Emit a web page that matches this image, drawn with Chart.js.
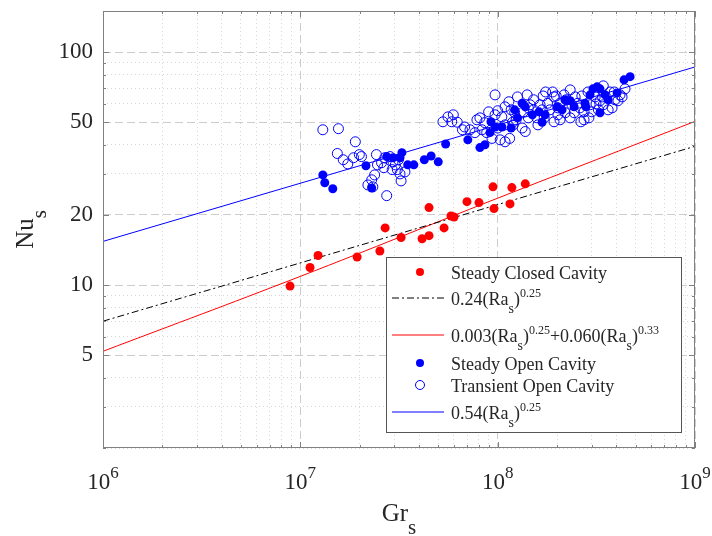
<!DOCTYPE html>
<html>
<head>
<meta charset="utf-8">
<script src="https://cdn.jsdelivr.net/npm/chart.js@4.4.1/dist/chart.umd.min.js"></script>
<style>
  html, body { margin: 0; padding: 0; background: #fff; }
</style>
</head>
<body>
<canvas id="nuChart" width="712" height="536"></canvas>
<script>
// axis ranges and labelled ticks
const xMin = 1e6, xMax = 1e9;
const xTickExponents = [6, 7, 8, 9];
const yMin = 2, yMax = 150;
const yTickLabels = [5, 10, 20, 50, 100];

// Steady Closed Cavity
const closedGr = [8.87e6, 1.12e7, 1.23e7, 1.94e7, 2.53e7, 2.69e7, 3.24e7, 4.14e7, 4.49e7, 4.49e7,
    5.35e7, 5.80e7, 6.01e7, 6.99e7, 8.04e7, 9.58e7, 9.47e7, 1.155e8, 1.18e8, 1.38e8];
const closedNu = [9.9, 11.9, 13.4, 13.2, 14.0, 17.6, 16.0, 15.8, 16.3, 21.5,
    17.6, 19.8, 19.6, 22.8, 22.6, 21.3, 26.4, 22.3, 26.2, 27.2];

// Steady Open Cavity
const steadyGr = [1.30e7, 1.33e7, 1.46e7, 2.15e7, 2.30e7, 2.74e7, 2.95e7, 3.20e7, 3.27e7, 3.50e7,
    3.76e7, 4.25e7, 4.60e7, 5.00e7, 5.45e7, 7.06e7, 8.13e7, 8.62e7, 9.14e7, 9.25e7,
    9.70e7, 1.05e8, 1.17e8, 1.26e8, 1.38e8, 1.50e8, 1.62e8, 1.68e8, 2.00e8, 2.12e8,
    2.44e8, 2.77e8, 3.04e8, 3.19e8, 3.30e8, 3.30e8, 3.63e8, 4.03e8, 4.37e8, 4.69e8,
    1.33e8, 1.22e8, 2.33e8, 2.80e8, 1.74e8, 2.20e8, 2.94e8, 3.50e8];
const steadyNu = [29.7, 27.5, 25.9, 32.5, 26.1, 35.6, 35.2, 35.2, 37.0, 32.8,
    32.8, 34.5, 35.8, 33.8, 40.3, 42.0, 38.9, 40.0, 45.1, 50.2,
    47.7, 47.7, 47.2, 52.2, 58.2, 53.8, 55.4, 50.0, 58.2, 56.5,
    58.2, 60.3, 69.5, 70.9, 69.5, 54.9, 62.4, 66.8, 76.0, 78.4,
    60.3, 56.5, 61.8, 58.2, 53.8, 62.4, 65.5, 65.5];

// Transient Open Cavity
const transientGr = [1.30e7, 1.56e7, 1.90e7, 1.54e7, 1.65e7, 1.74e7, 1.86e7, 1.99e7, 2.04e7, 2.43e7,
    2.46e7, 2.58e7, 2.38e7, 2.30e7, 2.20e7, 2.33e7, 2.74e7, 2.68e7, 2.85e7, 2.95e7,
    3.14e7, 3.10e7, 3.20e7, 3.39e7, 3.24e7, 3.03e7, 2.92e7, 2.65e7, 5.28e7, 5.60e7,
    5.96e7, 6.24e7, 5.85e7, 6.63e7, 6.80e7, 7.24e7, 7.67e7, 7.85e7, 8.33e7, 8.80e7,
    9.36e7, 1.03e8, 1.09e8, 1.15e8, 1.09e8, 1.17e8, 1.22e8, 1.24e8, 1.33e8, 1.05e8,
    9.70e7, 1.38e8, 1.26e8, 1.14e8, 1.00e8, 9.70e7, 8.60e7, 1.00e8, 1.19e8, 1.70e8,
    1.98e8, 2.33e8, 2.67e8, 3.43e8, 4.07e8, 2.64e8, 2.90e8, 1.93e8, 1.52e8, 1.46e8,
    1.64e8, 1.84e8, 2.07e8, 2.20e8, 2.47e8, 2.61e8, 2.94e8, 3.12e8, 3.30e8, 3.71e8,
    3.80e8, 4.17e8, 4.42e8, 2.87e8, 2.02e8, 1.72e8, 1.43e8, 1.52e8, 1.79e8, 2.17e8,
    3.24e8, 3.43e8, 3.93e8, 2.74e8, 2.33e8, 1.60e8, 1.35e8, 1.41e8, 1.90e8, 2.38e8,
    1.20e8, 1.43e8, 1.58e8, 1.68e8, 1.93e8, 2.02e8, 2.22e8, 2.44e8, 2.55e8, 3.00e8,
    3.15e8, 3.40e8, 3.63e8, 3.90e8, 4.27e8, 1.75e8, 9.00e7, 8.13e7, 1.09e8, 2.07e8,
    2.74e8];
const transientNu = [46.4, 46.9, 41.2, 36.7, 34.5, 33.1, 35.2, 36.3, 35.6, 36.3,
    32.8, 33.5, 29.7, 28.3, 26.9, 26.4, 24.2, 35.2, 35.6, 33.8,
    34.5, 31.3, 30.0, 30.6, 28.0, 32.8, 31.3, 31.9, 50.2, 52.7,
    53.8, 50.0, 50.2, 46.4, 47.7, 46.4, 45.1, 51.2, 46.4, 45.1,
    42.6, 42.0, 41.2, 42.6, 58.2, 56.5, 54.9, 51.2, 47.2, 52.7,
    65.5, 45.6, 64.2, 61.2, 56.0, 53.8, 49.8, 47.2, 50.0, 64.8,
    64.8, 68.8, 64.8, 71.6, 61.8, 50.2, 52.2, 50.2, 62.4, 59.4,
    59.4, 56.5, 60.3, 54.9, 64.2, 57.6, 59.4, 64.2, 61.8, 67.4,
    57.6, 65.5, 69.5, 67.4, 53.8, 52.2, 52.2, 56.5, 60.3, 65.5,
    56.5, 59.4, 62.4, 55.4, 52.2, 48.7, 55.4, 65.5, 67.4, 59.4,
    48.7, 57.6, 52.2, 56.5, 64.2, 57.6, 62.4, 54.9, 60.3, 55.4,
    59.9, 64.2, 56.5, 67.4, 64.2, 67.4, 55.4, 52.2, 48.7, 51.2,
    51.2];

// correlation lines, read at the plot edges
const fitGr = [1e6, 1e9];
const fit024Nu = [7.0, 39.4];
const fit054Nu = [15.4, 86.3];
const fitMixGr = [1e6, 1e7, 1e8, 1e9];
const fitMixNu = [5.2, 10.9, 23.6, 50.4];

const FONT = "'Liberation Serif', 'Times New Roman', serif";
const TEXT = '#262626';
const RED = 'rgb(255, 0, 0)';
const BLUE = 'rgb(0, 0, 255)';

function pairs(xs, ys) {
    return xs.map((x, i) => ({ x: x, y: ys[i] }));
}

function logGrid(min, max) {
    const vals = [];
    for (let e = Math.floor(Math.log10(min)); e <= Math.ceil(Math.log10(max)); e++) {
        for (let m = 1; m <= 9; m++) {
            const v = m * Math.pow(10, e);
            if (v >= min && v <= max) vals.push(v);
        }
    }
    return vals;
}

// "0.24(Ra_s)^0.25" -> normal / sub / sup pieces
function richParts(label) {
    const parts = [];
    const re = /_([A-Za-z0-9]+)|\^([0-9.]+)|([^_^]+)/g;
    let m;
    while ((m = re.exec(label))) {
        if (m[1]) parts.push({ t: m[1], k: 'sub' });
        else if (m[2]) parts.push({ t: m[2], k: 'sup' });
        else parts.push({ t: m[3], k: 'n' });
    }
    return parts;
}

function drawRich(ctx, parts, x, y, size, align, o) {
    const fontOf = p => {
        const r = p.k === 'sub' ? o.subRatio : p.k === 'sup' ? o.supRatio : 1;
        return Math.round(size * r) + 'px ' + FONT;
    };
    let w = 0;
    parts.forEach(p => { ctx.font = fontOf(p); w += ctx.measureText(p.t).width; });
    let cx = align === 'center' ? x - w / 2 : x;
    ctx.textAlign = 'left';
    ctx.textBaseline = 'alphabetic';
    ctx.fillStyle = TEXT;
    parts.forEach(p => {
        ctx.font = fontOf(p);
        const dy = p.k === 'sub' ? size * o.subDy : p.k === 'sup' ? -size * o.supDy : 0;
        ctx.fillText(p.t, cx, y + dy);
        cx += ctx.measureText(p.t).width;
    });
}

const decorations = {
    id: 'decorations',
    afterDraw(chart) {
        const ctx = chart.ctx;
        const a = chart.chartArea;
        const xs = chart.scales.x, ys = chart.scales.y;
        ctx.save();

        // inward tick marks on all four sides
        ctx.strokeStyle = '#808080';
        ctx.lineWidth = 1;
        ctx.beginPath();
        xs.ticks.forEach(t => {
            const px = Math.round(xs.getPixelForValue(t.value)) + 0.5;
            const len = t.major ? 6 : 3;
            ctx.moveTo(px, a.bottom); ctx.lineTo(px, a.bottom - len);
            ctx.moveTo(px, a.top); ctx.lineTo(px, a.top + len);
        });
        ys.ticks.forEach(t => {
            const py = Math.round(ys.getPixelForValue(t.value)) + 0.5;
            const len = t.major ? 6 : 3;
            ctx.moveTo(a.left, py); ctx.lineTo(a.left + len, py);
            ctx.moveTo(a.right, py); ctx.lineTo(a.right - len, py);
        });
        ctx.stroke();
        ctx.strokeRect(a.left + 0.5, a.top + 0.5, a.right - a.left - 1, a.bottom - a.top - 1);

        // x tick labels 10^n
        xTickExponents.forEach(e => {
            const px = xs.getPixelForValue(Math.pow(10, e));
            drawRich(ctx, [{ t: '10', k: 'n' }, { t: String(e), k: 'sup' }], px, a.bottom + 41, 23, 'center',
                { supRatio: 0.72, supDy: 0.5, subRatio: 1, subDy: 0 });
        });

        // axis titles
        const titleOpts = { subRatio: 0.85, subDy: 0.5, supRatio: 0.7, supDy: 0.45 };
        drawRich(ctx, richParts('Gr_s'), (a.left + a.right) / 2, a.bottom + 73, 25, 'center', titleOpts);
        ctx.save();
        ctx.translate(33, (a.top + a.bottom) / 2);
        ctx.rotate(-Math.PI / 2);
        drawRich(ctx, richParts('Nu_s'), 0, 0, 25, 'center', titleOpts);
        ctx.restore();

        // legend box
        const bw = 295, bh = 175;
        const bx = a.right - 14 - bw, by = a.bottom - 16 - bh;
        ctx.fillStyle = '#ffffff';
        ctx.fillRect(bx, by, bw, bh);
        ctx.strokeStyle = '#555555';
        ctx.strokeRect(bx + 0.5, by + 0.5, bw, bh);

        const rows = [15, 41, 78, 106, 128, 155];
        const legOpts = { subRatio: 0.8, subDy: 0.45, supRatio: 0.68, supDy: 0.42 };
        chart.data.datasets.forEach((ds, i) => {
            const ry = by + rows[i];
            const meta = chart.getDatasetMeta(i);
            if (ds.showLine) {
                const lo = meta.dataset ? meta.dataset.options : ds;
                ctx.strokeStyle = lo.borderColor || ds.borderColor;
                ctx.lineWidth = lo.borderWidth || 1;
                ctx.setLineDash(lo.borderDash || []);
                ctx.beginPath();
                ctx.moveTo(bx + 6, ry);
                ctx.lineTo(bx + 58, ry);
                ctx.stroke();
                ctx.setLineDash([]);
            } else {
                ctx.beginPath();
                ctx.arc(bx + 34, ry, ds.pointRadius - 0.5, 0, Math.PI * 2);
                if (ds.pointBorderWidth > 0) {
                    ctx.fillStyle = '#ffffff';
                    ctx.fill();
                    ctx.strokeStyle = ds.pointBorderColor;
                    ctx.lineWidth = ds.pointBorderWidth;
                    ctx.stroke();
                } else {
                    ctx.fillStyle = ds.pointBackgroundColor;
                    ctx.fill();
                }
            }
            drawRich(ctx, richParts(ds.label), bx + 65, ry + 6.5, 18, 'left', legOpts);
        });
        ctx.restore();
    }
};

const ctx = document.getElementById('nuChart').getContext('2d');

new Chart(ctx, {
    type: 'scatter',
    data: {
        datasets: [
            {
                label: 'Steady Closed Cavity',
                data: pairs(closedGr, closedNu),
                pointRadius: 4.5,
                pointBackgroundColor: RED,
                pointBorderWidth: 0,
                order: 1
            },
            {
                label: '0.24(Ra_s)^0.25',
                data: pairs(fitGr, fit024Nu),
                showLine: true,
                pointRadius: 0,
                borderColor: '#000000',
                borderWidth: 1,
                borderDash: [7, 3, 2, 3],
                order: 5
            },
            {
                label: '0.003(Ra_s)^0.25+0.060(Ra_s)^0.33',
                data: pairs(fitMixGr, fitMixNu),
                showLine: true,
                pointRadius: 0,
                borderColor: RED,
                borderWidth: 1,
                tension: 0.4,
                order: 5
            },
            {
                label: 'Steady Open Cavity',
                data: pairs(steadyGr, steadyNu),
                pointRadius: 4.5,
                pointBackgroundColor: BLUE,
                pointBorderWidth: 0,
                order: 2
            },
            {
                label: 'Transient Open Cavity',
                data: pairs(transientGr, transientNu),
                pointRadius: 5,
                pointBackgroundColor: 'rgba(0,0,0,0)',
                pointBorderColor: BLUE,
                pointBorderWidth: 1,
                order: 3
            },
            {
                label: '0.54(Ra_s)^0.25',
                data: pairs(fitGr, fit054Nu),
                showLine: true,
                pointRadius: 0,
                borderColor: BLUE,
                borderWidth: 1,
                order: 5
            }
        ]
    },
    options: {
        responsive: false,
        animation: false,
        layout: { padding: { left: 0, top: 11, right: 17, bottom: 0 } },
        plugins: {
            legend: { display: false },
            tooltip: { enabled: false }
        },
        scales: {
            x: {
                type: 'logarithmic',
                min: xMin,
                max: xMax,
                afterBuildTicks: scale => {
                    scale.ticks = logGrid(xMin, xMax).map(v => ({
                        value: v,
                        major: xTickExponents.some(e => Math.abs(v - Math.pow(10, e)) < 1)
                    }));
                },
                afterFit: scale => {
                    scale.height = 88;
                    scale.paddingLeft = 0;
                    scale.paddingRight = 0;
                },
                ticks: { display: false, autoSkip: false },
                grid: {
                    drawTicks: false,
                    color: c => (c.tick && c.tick.major) ? '#cccccc' : '#d6d6d6'
                },
                border: {
                    display: false,
                    dash: c => (c.tick && c.tick.major) ? [8, 4] : [1, 3]
                }
            },
            y: {
                type: 'logarithmic',
                min: yMin,
                max: yMax,
                afterBuildTicks: scale => {
                    scale.ticks = logGrid(yMin, yMax).map(v => ({
                        value: v,
                        major: yTickLabels.includes(v)
                    }));
                },
                afterFit: scale => {
                    scale.width = 103;
                    scale.paddingTop = 0;
                    scale.paddingBottom = 0;
                },
                ticks: {
                    autoSkip: false,
                    padding: 10,
                    color: TEXT,
                    font: { family: FONT, size: 23 },
                    callback: v => yTickLabels.includes(v) ? String(v) : ''
                },
                grid: {
                    drawTicks: false,
                    color: c => (c.tick && c.tick.major) ? '#cccccc' : '#d6d6d6'
                },
                border: {
                    display: false,
                    dash: c => (c.tick && c.tick.major) ? [8, 4] : [1, 3]
                }
            }
        }
    },
    plugins: [decorations]
});
</script>
</body>
</html>
